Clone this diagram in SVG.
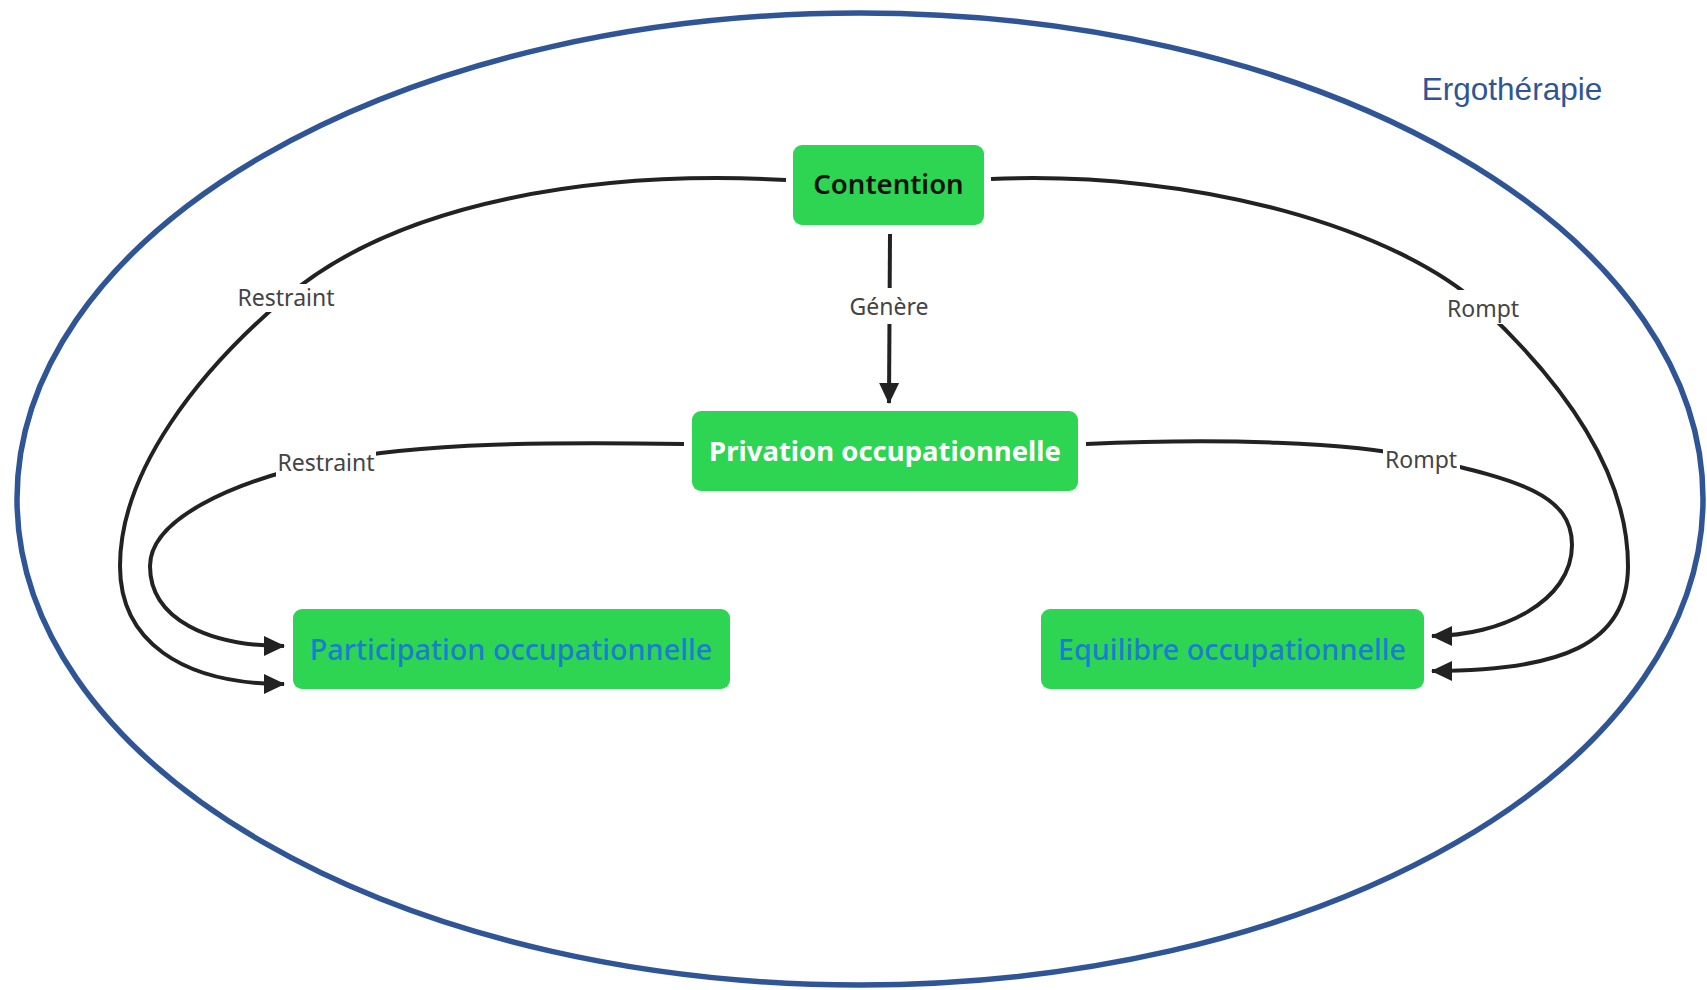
<svg xmlns="http://www.w3.org/2000/svg" width="1707" height="990" viewBox="0 0 1707 990">
<style>
.node rect{fill:#2dd552;}
.ntxt{font-family:"Noto Sans","DejaVu Sans",sans-serif;font-size:27.5px;text-anchor:middle;}
.ntxt.sub{font-size:28.8px;font-weight:500;fill:#1a7ecf;}
.conn path{fill:none;stroke:#222;stroke-width:4;}
.lbl{font-family:"Noto Sans","DejaVu Sans",sans-serif;font-size:23px;fill:#444;text-anchor:middle;}
.lbg{fill:#fff;}
</style>
<defs>
<marker id="arr" markerUnits="userSpaceOnUse" markerWidth="22" markerHeight="22" refX="20" refY="10" orient="auto" viewBox="0 0 22 20">
<path d="M0,0 L21,10 L0,20 z" fill="#222"/>
</marker>
</defs>
<rect width="1707" height="990" fill="#fff"/>
<ellipse id="boundary" cx="860" cy="499" rx="843" ry="486" fill="none" stroke="#2f5597" stroke-width="5.5"/>
<text x="1512" y="100" font-family="Liberation Sans, Arial, sans-serif" font-size="31.5" fill="#2f5597" text-anchor="middle">Ergothérapie</text>
<g class="conn" id="connectors">
<path d="M 786 180 C 600 170, 400 200, 285 298 C 200 370, 120 470, 120 566 C 120 640, 180 684, 284 684" marker-end="url(#arr)"/>
<path d="M 684 444 C 560 442, 420 442, 325 462 C 230 482, 150 520, 150 566 C 150 620, 210 646, 284 646" marker-end="url(#arr)"/>
<path d="M 991 179 C 1200 170, 1400 230, 1483 308 C 1560 380, 1628 470, 1628 566 C 1628 645, 1560 671, 1432 671" marker-end="url(#arr)"/>
<path d="M 1086 444 C 1220 438, 1350 442, 1421 458 C 1520 480, 1572 495, 1572 545 C 1572 602, 1500 636, 1432 636" marker-end="url(#arr)"/>
<path d="M 890 234 L 889 403" marker-end="url(#arr)"/>
<g id="labels">
<rect class="lbg" x="234" y="284" width="104" height="28"/>
<text class="lbl" x="286" y="306">Restraint</text>
<rect class="lbg" x="276" y="449" width="100" height="28"/>
<text class="lbl" x="326" y="471">Restraint</text>
<rect class="lbg" x="846" y="288" width="87" height="36"/>
<text class="lbl" x="889" y="315">Génère</text>
<rect class="lbg" x="1444" y="290" width="79" height="34"/>
<text class="lbl" x="1483" y="317">Rompt</text>
<rect class="lbg" x="1383" y="448" width="77" height="28"/>
<text class="lbl" x="1421" y="468">Rompt</text>
</g>
</g>
<g class="node" id="contention">
<rect x="793" y="145" width="191" height="80" rx="9"/>
<text class="ntxt" x="888.5" y="194" font-weight="600" fill="#111">Contention</text>
</g>
<g class="node" id="privation">
<rect x="692" y="411" width="386" height="80" rx="9"/>
<text class="ntxt" x="885" y="461" font-weight="700" fill="#fff">Privation occupationnelle</text>
</g>
<g class="node" id="participation">
<rect x="293" y="609" width="437" height="80" rx="9"/>
<text class="ntxt sub" x="511" y="660">Participation occupationnelle</text>
</g>
<g class="node" id="equilibre">
<rect x="1041" y="609" width="383" height="80" rx="9"/>
<text class="ntxt sub" x="1232" y="660">Equilibre occupationnelle</text>
</g>
</svg>
